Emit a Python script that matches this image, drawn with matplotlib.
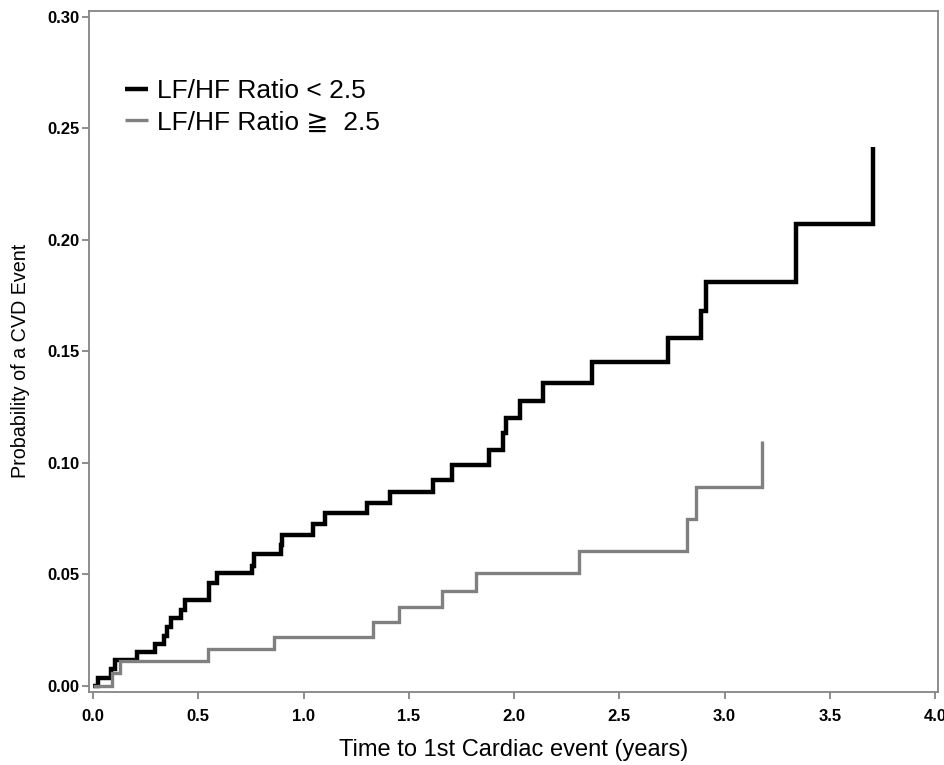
import numpy as np
import matplotlib
matplotlib.use('Agg')
import matplotlib.pyplot as plt
from matplotlib.ticker import FormatStrFormatter

plt.rcParams['font.family'] = ['Liberation Sans', 'DejaVu Sans']

# cumulative incidence, LF/HF ratio < 2.5 (time of jump, level after jump)
low_time = [0.0, 0.024, 0.086, 0.105, 0.21, 0.295, 0.337, 0.35, 0.37, 0.42, 0.437,
            0.55, 0.59, 0.755, 0.765, 0.893, 0.898, 1.045, 1.10, 1.30, 1.41,
            1.615, 1.705, 1.88, 1.95, 1.962, 2.03, 2.14, 2.37, 2.73, 2.89,
            2.91, 3.34, 3.705]
low_prob = [0.0, 0.0036, 0.0076, 0.0117, 0.0152, 0.019, 0.0224, 0.0265, 0.0305, 0.034, 0.0386,
            0.046, 0.0507, 0.054, 0.059, 0.063, 0.0677, 0.0726, 0.0776, 0.082, 0.087,
            0.0924, 0.099, 0.106, 0.1134, 0.120, 0.128, 0.136, 0.1455, 0.156, 0.168,
            0.181, 0.207, 0.2418]

# cumulative incidence, LF/HF ratio >= 2.5
high_time = [0.0, 0.09, 0.128, 0.546, 0.86, 1.33, 1.455, 1.66, 1.82, 2.31, 2.82, 2.865, 3.18]
high_prob = [0.0, 0.0058, 0.011, 0.0165, 0.022, 0.0287, 0.0355, 0.0428, 0.0507, 0.0605,
             0.0749, 0.0892, 0.110]

labels = ['LF/HF Ratio < 2.5', 'LF/HF Ratio \u2267  2.5']
x_ticks = np.arange(0, 4.01, 0.5)
y_ticks = np.arange(0, 0.301, 0.05)

fig = plt.figure(figsize=(9.44, 7.65), dpi=100)
ax = fig.add_axes([0.0943, 0.0954, 0.8993, 0.8903])

ax.step(low_time, low_prob, where='post', color='black', lw=3.2,
        solid_joinstyle='miter', solid_capstyle='butt', label=labels[0])
ax.step(high_time, high_prob, where='post', color='#808080', lw=2.4,
        solid_joinstyle='miter', solid_capstyle='butt', label=labels[1])

ax.set_xlim(-0.019, 4.014)
ax.set_ylim(-0.0027, 0.3027)
ax.set_xticks(x_ticks)
ax.set_yticks(y_ticks)
ax.xaxis.set_major_formatter(FormatStrFormatter('%.1f'))
ax.yaxis.set_major_formatter(FormatStrFormatter('%.2f'))

for side in ['left', 'right', 'top', 'bottom']:
    ax.spines[side].set_color('#858585')
    ax.spines[side].set_linewidth(1.3)
ax.tick_params(direction='out', length=5, width=1.3, color='#858585',
               labelsize=12, labelcolor='black')
ax.tick_params(axis='x', pad=7)
ax.tick_params(axis='y', pad=2)
for lab in ax.get_xticklabels() + ax.get_yticklabels():
    lab.set_fontweight('bold')

ax.set_xlabel('Time to 1st Cardiac event (years)', fontsize=17, labelpad=11)
ax.set_ylabel('Probability of a CVD Event', fontsize=14.2, labelpad=12, y=0.486)

leg = ax.legend(loc='upper left', bbox_to_anchor=(0.030, 0.915), frameon=False,
                fontsize=19, handlelength=0.87, handletextpad=0.34,
                labelspacing=0.27, borderaxespad=0)

fig.savefig('out.png', dpi=100)
